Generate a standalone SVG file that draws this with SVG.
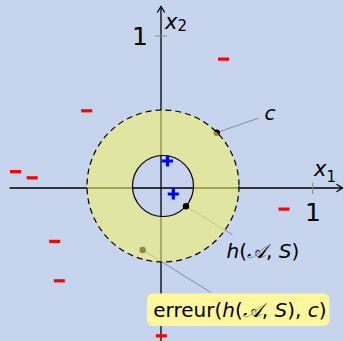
<svg xmlns="http://www.w3.org/2000/svg" width="344" height="341" viewBox="0 0 344 341">
<style>
.ax{stroke:#000;stroke-width:1.3;fill:none}
.tick{stroke:#8a8a8a;stroke-width:1}
.lead{stroke:#8c8c8c;stroke-width:1;fill:none}
.neg{fill:#ff0000}
.pos{stroke:#0000ff;stroke-width:3.2;fill:none}
text{font-family:"DejaVu Sans","Liberation Sans",sans-serif;fill:#000}
.it{font-style:italic}
</style>
<rect x="0" y="0" width="344" height="341" fill="#c6d4ed"/>
<g id="axes">
<line class="ax" x1="9.5" y1="188" x2="342" y2="188"/>
<path class="ax" d="M336.5,184.3 L342.5,188 L336.5,191.7"/>
<line class="ax" x1="161" y1="341" x2="161" y2="7"/>
<path class="ax" d="M157.3,12.5 L161,6.5 L164.7,12.5"/>
<line class="tick" x1="312.7" y1="182.5" x2="312.7" y2="194"/>
<line class="tick" x1="155" y1="36" x2="167" y2="36"/>
<text x="313" y="221" font-size="25" text-anchor="middle">1</text>
<text x="140" y="45" font-size="25" text-anchor="middle">1</text>
<text x="314" y="176" font-size="21" class="it">x<tspan font-size="15" font-style="normal" dy="5.5">1</tspan></text>
<text x="165" y="28.5" font-size="21" class="it">x<tspan font-size="15" font-style="normal" dy="2.5">2</tspan></text>
</g>
<g id="connectors">
<line class="lead" x1="216.7" y1="132.7" x2="258.7" y2="118"/>
<line class="lead" x1="186" y1="206.3" x2="232.3" y2="234.7"/>
<line class="lead" x1="142.7" y1="250" x2="210.7" y2="292.3"/>
<circle cx="216.7" cy="132.7" r="3.2" fill="#000"/>
<circle cx="142.7" cy="250" r="3.2" fill="#000"/>
</g>
<g id="region">
<path d="M87,186 A76,76 0 1,0 239,186 A76,76 0 1,0 87,186 Z M132.5,186 A30.5,30.5 0 1,0 193.5,186 A30.5,30.5 0 1,0 132.5,186 Z" fill="#f3f16a" fill-opacity="0.58" fill-rule="evenodd"/>
<circle cx="163" cy="186" r="76" fill="none" stroke="#000" stroke-width="1.2" stroke-dasharray="6 4"/>
<circle cx="163" cy="186" r="30.5" fill="none" stroke="#000" stroke-width="1.2"/>
</g>
<g id="h-point">
<circle cx="186" cy="206.3" r="3.2" fill="#000"/>
<text x="226.5" y="257.7" font-size="20"><tspan class="it">h</tspan>(<tspan class="it">𝒜</tspan>, <tspan class="it">S</tspan>)</text>
</g>
<g id="c-label">
<text x="264.5" y="119.5" font-size="20" class="it">c</text>
</g>
<g id="erreur-label">
<rect x="147" y="293.5" width="182.5" height="32.5" rx="6" ry="6" fill="#fff79c"/>
<text x="153.3" y="316.7" font-size="20">erreur(<tspan class="it">h</tspan>(<tspan class="it">𝒜</tspan>, <tspan class="it">S</tspan>), <tspan class="it">c</tspan>)</text>
</g>
<g id="positives">
<path class="pos" d="M162,161 H173 M167.5,155.5 V166.5"/>
<path class="pos" d="M167.8,194 H178.8 M173.3,188.5 V199.5"/>
</g>
<g id="negatives">
<rect class="neg" x="218" y="57.5" width="11" height="3.2"/>
<rect class="neg" x="81.2" y="109.2" width="11" height="3.2"/>
<rect class="neg" x="10" y="170" width="11" height="3.2"/>
<rect class="neg" x="26.7" y="176.2" width="11" height="3.2"/>
<rect class="neg" x="278.5" y="207.5" width="11" height="3.2"/>
<rect class="neg" x="49.2" y="239.8" width="11" height="3.2"/>
<rect class="neg" x="53.8" y="279.2" width="11" height="3.2"/>
<rect class="neg" x="155.8" y="334.2" width="11" height="3.2"/>
</g>
</svg>
